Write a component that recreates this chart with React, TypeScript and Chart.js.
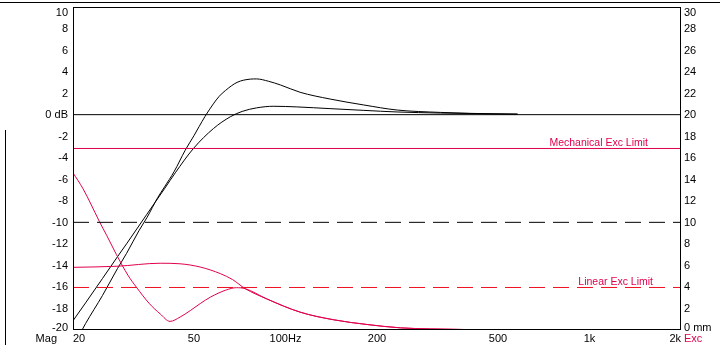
import React, { useEffect, useRef } from 'react';
import { Chart, registerables } from 'chart.js';

Chart.register(...registerables);

// ---- data ----
const freqA = [20, 22, 25, 28, 30, 33, 35, 38, 40, 43, 46.8, 50, 52, 54.4, 57.9, 60.5, 63.5, 69.3, 76.6, 80.3, 88, 96.2, 111.7, 140.3, 181, 233, 323, 406, 580];
const magA = [-21.58, -19.4, -16.8, -14.3, -12.89, -10.75, -9.57, -7.7, -6.71, -5.3, -3.3, -1.95, -1.1, -0.15, 1.0, 1.7, 2.25, 3.0, 3.3, 3.32, 3.1, 2.76, 2.08, 1.45, 0.9, 0.43, 0.21, 0.12, 0.05];

const freqB = [20, 22, 25, 28, 30, 35, 40, 43.4, 49.8, 58, 65.8, 72, 80.3, 91.5, 109, 140, 181, 233, 323, 470, 580];
const magB = [-19.14, -17.48, -15.22, -13.2, -12.0, -9.25, -6.88, -5.4, -3.14, -1.28, -0.2, 0.3, 0.63, 0.78, 0.72, 0.56, 0.4, 0.25, 0.15, 0.08, 0.05];

const freqR1 = [20, 21.6, 22.9, 24.4, 25.8, 27.8, 30.3, 32.3, 35.7, 38.7, 41.7, 45.0, 48.6, 52.4, 56.6, 63.6, 69, 73.7, 86.6, 111.7, 144, 185.6, 239, 300, 400, 580];
const excR1 = [14.6, 13.1, 11.7, 10.1, 8.8, 7.0, 5.1, 3.99, 2.44, 1.5, 0.8, 1.2, 1.8, 2.45, 3.05, 3.7, 3.93, 3.84, 2.9, 1.66, 0.95, 0.51, 0.2, 0.1, 0.04, 0.02];

const freqR2 = [20, 27.9, 38.7, 45, 52.4, 61, 67, 73.7, 86.6, 111.7, 144, 185.6, 239, 300, 400, 580];
const excR2 = [5.82, 5.92, 6.2, 6.15, 5.85, 5.24, 4.68, 3.84, 2.9, 1.66, 0.95, 0.51, 0.2, 0.1, 0.04, 0.02];

const zeroDb = 0;
const blackDashDb = -10;
const mechLimitMm = 16.86;
const linearLimitMm = 3.95;

const xTicks = [20, 50, 100, 200, 500, 1000, 2000];
const xTickLabels = ['20', '50', '100Hz', '200', '500', '1k', '2k'];
const dbTicks = [10, 8, 6, 4, 2, 0, -2, -4, -6, -8, -10, -12, -14, -16, -18, -20];
const mmTicks = [30, 28, 26, 24, 22, 20, 18, 16, 14, 12, 10, 8, 6, 4, 2, 0];

const RED = '#E0004E';
const DASH_RED = '#EE1020';
const FONT = '11px "Liberation Sans", Arial, sans-serif';
const FONT_SMALL = '10.5px "Liberation Sans", Arial, sans-serif';

const pts = (xs: number[], ys: number[]) => xs.map((x, i) => ({ x, y: ys[i] }));
const hline = (v: number) => [{ x: 20, y: v }, { x: 2000, y: v }];

const framePlugin = {
  id: 'frame',
  afterDraw(chart: any) {
    const { ctx, chartArea: a, scales } = chart;
    const xs = scales.x, ys = scales.y, y2 = scales.y2;
    ctx.save();
    ctx.strokeStyle = '#000';
    ctx.lineWidth = 1;
    ctx.strokeRect(a.left + 0.5, a.top + 0.5, a.right - a.left - 1, a.bottom - a.top - 1);
    // outer frame fragments
    ctx.beginPath();
    ctx.moveTo(0, 2.5);
    ctx.lineTo(720, 2.5);
    ctx.moveTo(5.5, 130);
    ctx.lineTo(5.5, 345);
    ctx.stroke();

    ctx.font = FONT;
    ctx.fillStyle = '#000';
    ctx.textBaseline = 'middle';
    const clampY = (y: number) => Math.min(Math.max(y, a.top + 5), a.bottom - 3);
    ctx.textAlign = 'right';
    dbTicks.forEach((v) => {
      const y = clampY(ys.getPixelForValue(v));
      ctx.fillText(v === 0 ? '0 dB' : String(v), a.left - 5, y + 0.5);
    });
    ctx.textAlign = 'left';
    mmTicks.forEach((v) => {
      const y = clampY(y2.getPixelForValue(v));
      ctx.fillText(v === 0 ? '0 mm' : String(v), a.right + 3, y + 0.5);
    });
    const by = a.bottom + 8.5;
    xTicks.forEach((v, i) => {
      const x = xs.getPixelForValue(v);
      ctx.textAlign = i === 0 ? 'left' : i === xTicks.length - 1 ? 'right' : 'center';
      ctx.fillText(xTickLabels[i], x, by);
    });
    ctx.textAlign = 'right';
    ctx.fillText('Mag', a.left - 16, by);
    ctx.textAlign = 'left';
    ctx.fillStyle = RED;
    ctx.fillText('Exc', a.right + 3, by + 0.5);

    ctx.font = FONT_SMALL;
    ctx.textBaseline = 'alphabetic';
    ctx.textAlign = 'right';
    ctx.fillText('Mechanical Exc Limit', a.right - 33, y2.getPixelForValue(mechLimitMm) - 2);
    ctx.fillText('Linear Exc Limit', a.right - 28, y2.getPixelForValue(linearLimitMm) - 2);
    ctx.restore();
  },
};

export default function App() {
  const ref = useRef<HTMLCanvasElement | null>(null);
  useEffect(() => {
    if (!ref.current) return;
    const common = { pointRadius: 0, borderWidth: 1, fill: false };
    const chart = new Chart(ref.current, {
      type: 'line',
      data: {
        datasets: [
          { ...common, data: hline(zeroDb), borderColor: '#000', yAxisID: 'y' },
          { ...common, data: hline(blackDashDb), borderColor: '#000', yAxisID: 'y', borderDash: [16, 8] },
          { ...common, data: hline(mechLimitMm), borderColor: RED, yAxisID: 'y2' },
          { ...common, data: hline(linearLimitMm), borderColor: DASH_RED, yAxisID: 'y2', borderDash: [16, 8] },
          { ...common, data: pts(freqR1, excR1), borderColor: RED, yAxisID: 'y2', cubicInterpolationMode: 'monotone' },
          { ...common, data: pts(freqR2, excR2), borderColor: RED, yAxisID: 'y2', cubicInterpolationMode: 'monotone' },
          { ...common, data: pts(freqA, magA), borderColor: '#000', yAxisID: 'y', cubicInterpolationMode: 'monotone' },
          { ...common, data: pts(freqB, magB), borderColor: '#000', yAxisID: 'y', cubicInterpolationMode: 'monotone' },
        ] as any,
      },
      options: {
        responsive: false,
        animation: false,
        events: [],
        layout: { padding: { left: 73, right: 39, top: 7, bottom: 28 } },
        plugins: { legend: { display: false }, tooltip: { enabled: false } },
        scales: {
          x: { type: 'logarithmic', min: 20, max: 2000, display: false },
          y: { type: 'linear', min: -20, max: 10, display: false },
          y2: { type: 'linear', min: 0, max: 30, display: false },
        },
      } as any,
      plugins: [framePlugin],
    });
    return () => chart.destroy();
  }, []);
  return (
    <div style={{ position: 'absolute', left: 0, top: 0, width: 720, height: 358, background: '#fff' }}>
      <canvas ref={ref} width={720} height={358} style={{ width: 720, height: 358, display: 'block' }} />
    </div>
  );
}
